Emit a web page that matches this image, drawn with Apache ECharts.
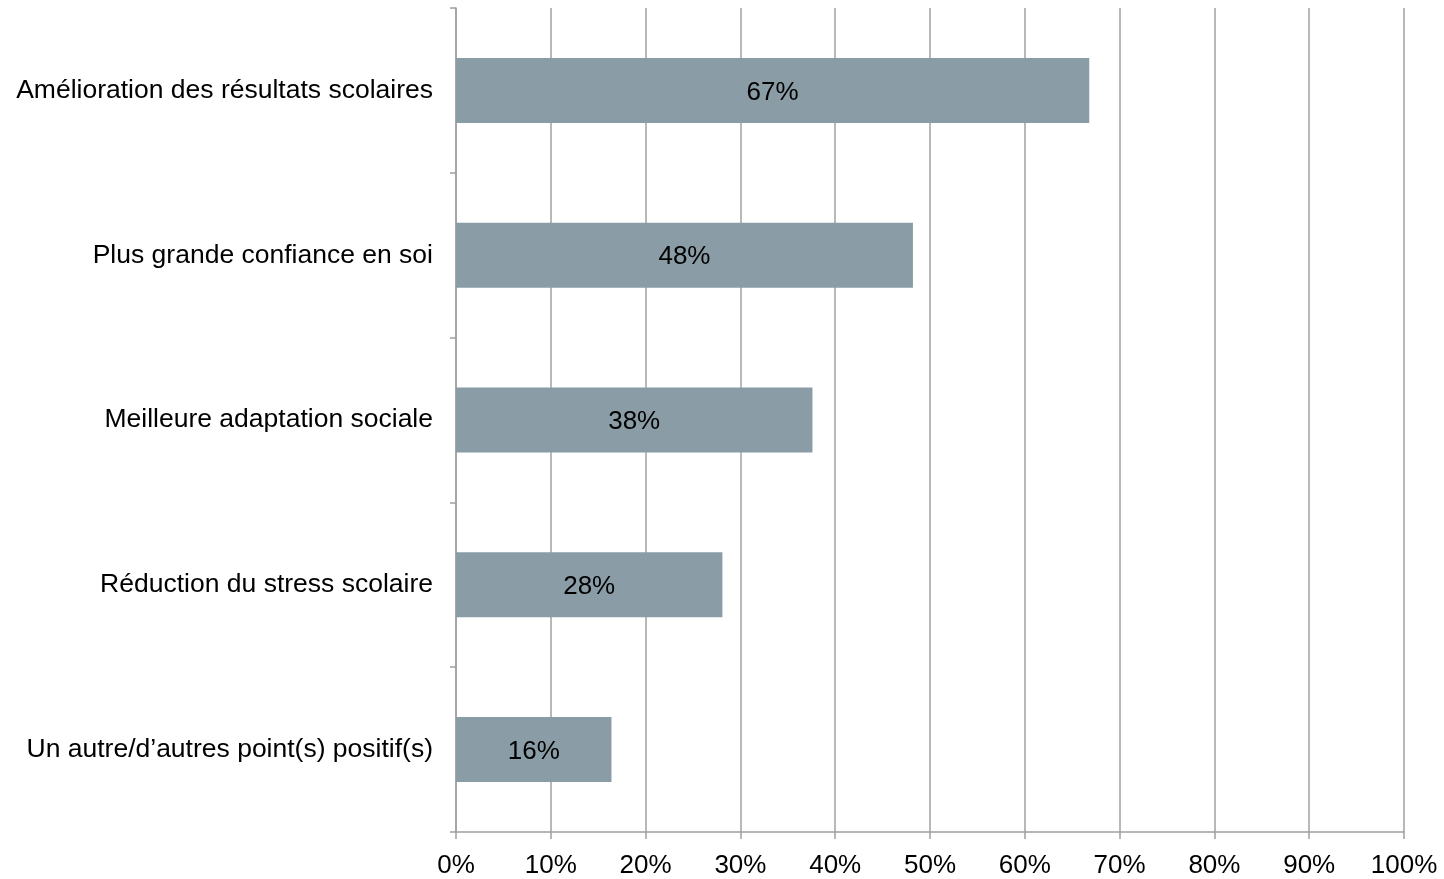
<!DOCTYPE html>
<html>
<head>
<meta charset="utf-8">
<script src="https://cdn.jsdelivr.net/npm/echarts@6/dist/echarts.min.js"></script>
<style>
  html, body { margin: 0; padding: 0; background: #fff; }
  #mychart { width: 1444px; height: 879px; }
</style>
</head>
<body>
<div id="mychart"></div>
<script>
// categories top to bottom
var categories = [
  'Amélioration des résultats scolaires',
  'Plus grande confiance en soi',
  'Meilleure adaptation sociale',
  'Réduction du stress scolaire',
  'Un autre/d’autres point(s) positif(s)'
]
// share of respondents, %
var values = [66.8, 48.2, 37.6, 28.1, 16.4]
var xTicks = [0, 10, 20, 30, 40, 50, 60, 70, 80, 90, 100]

var chartDom = document.getElementById('mychart')
var myChart = echarts.init(chartDom)
var option = {
  animation: false,
  textStyle: { fontFamily: 'Liberation Sans, Arial, sans-serif' },
  grid: {
    left: 456,
    right: 40,
    top: 8,
    bottom: 46
  },
  xAxis: {
    type: 'value',
    min: xTicks[0],
    max: xTicks[xTicks.length - 1],
    interval: 10,
    axisLine: { show: true, lineStyle: { color: '#a0a0a0', width: 1.5 } },
    axisTick: { show: true, length: 7, lineStyle: { color: '#a0a0a0', width: 1.5 } },
    axisLabel: {
      margin: 21,
      fontSize: 26,
      color: '#000',
      formatter: function (v) { return v + '%' }
    },
    splitLine: { show: true, lineStyle: { color: '#a0a0a0', width: 1.5 } }
  },
  yAxis: {
    type: 'category',
    inverse: true,
    data: categories,
    axisLine: { show: true, lineStyle: { color: '#a0a0a0', width: 1.5 } },
    axisTick: { show: true, length: 6, lineStyle: { color: '#a0a0a0', width: 1.5 } },
    axisLabel: { margin: 23, fontSize: 26.5, color: '#000' }
  },
  series: [
    {
      type: 'bar',
      data: values,
      barWidth: 65,
      itemStyle: { color: '#8a9ca6' },
      label: {
        show: true,
        position: 'inside',
        offset: [0, 2],
        fontSize: 26,
        color: '#000',
        formatter: function (p) { return Math.round(p.value) + '%' }
      }
    }
  ]
}
myChart.setOption(option)
</script>
</body>
</html>
